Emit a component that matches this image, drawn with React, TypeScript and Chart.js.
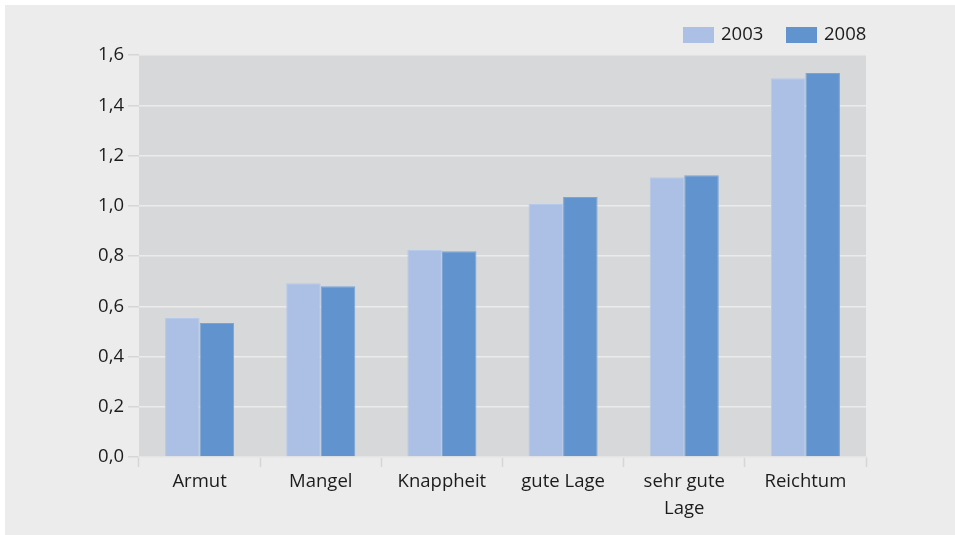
import React, { useEffect, useRef } from "react";
import { Chart, registerables } from "chart.js";

Chart.register(...registerables);

const categories: (string | string[])[] = ["Armut", "Mangel", "Knappheit", "gute Lage", ["sehr gute", "Lage"], "Reichtum"];
const values2003 = [0.553, 0.692, 0.824, 1.007, 1.113, 1.507];
const values2008 = [0.533, 0.68, 0.819, 1.035, 1.121, 1.528];
const seriesLabels = ["2003", "2008"];
const seriesColors = ["#abc0e4", "#6194cf"];

const FONT = "'Open Sans', 'Noto Sans', sans-serif";
const FS = 18.5;

export default function App() {
  const ref = useRef<HTMLCanvasElement | null>(null);
  useEffect(() => {
    if (!ref.current) return;
    const bgPlugin = {
      id: "bg",
      beforeDraw(chart: any) {
        const { ctx, chartArea, width, height } = chart;
        ctx.save();
        ctx.fillStyle = "#ffffff";
        ctx.fillRect(0, 0, width, height);
        ctx.fillStyle = "#ececec";
        ctx.fillRect(5, 5, width - 5, height - 5);
        ctx.fillStyle = "#d7d8da";
        ctx.fillRect(chartArea.left, chartArea.top, chartArea.right - chartArea.left, chartArea.bottom - chartArea.top);
        ctx.restore();
      },
      afterDraw(chart: any) {
        const { ctx } = chart;
        ctx.save();
        ctx.font = `${FS}px ${FONT}`;
        ctx.textBaseline = "middle";
        const starts = [683, 786];
        chart.data.datasets.forEach((ds: any, i: number) => {
          const x = starts[i];
          ctx.fillStyle = ds.backgroundColor;
          ctx.fillRect(x, 27, 31, 16);
          ctx.fillStyle = "#1c1c1c";
          ctx.fillText(ds.label, x + 38, 35);
        });
        ctx.restore();
      },
    };
    const chart = new Chart(ref.current, {
      type: "bar",
      data: {
        labels: categories as any,
        datasets: seriesLabels.map((l, i) => ({
          label: l,
          data: i === 0 ? values2003 : values2008,
          backgroundColor: seriesColors[i],
          borderColor: i === 0 ? "#b6c9e8" : "#7aa4d6",
          borderWidth: { top: 1, left: 1, right: 1, bottom: 0 },
          borderSkipped: false,
          categoryPercentage: 0.57,
          barPercentage: 1,
        })),
      },
      options: {
        animation: false,
        responsive: false,
        maintainAspectRatio: false,
        layout: { padding: { top: 55, right: 89, left: 0, bottom: 0 } },
        plugins: { legend: { display: false }, tooltip: { enabled: false } },
        scales: {
          x: {
            offset: true,
            grid: {
              offset: true,
              drawOnChartArea: false,
              drawTicks: true,
              tickLength: 10,
              tickColor: "#d6d6d6",
              tickWidth: 1.5,
            },
            border: { display: true, color: "#e4e4e4", width: 1.5 },
            ticks: {
              color: "#1c1c1c",
              font: { family: FONT, size: FS, lineHeight: 1.45 },
              padding: 1,
              maxRotation: 0,
              autoSkip: false,
            },
            afterFit(axis: any) {
              axis.height = 78;
            },
          },
          y: {
            min: 0,
            max: 1.6,
            ticks: {
              stepSize: 0.2,
              color: "#1c1c1c",
              font: { family: FONT, size: FS },
              padding: 4,
              callback: (v: any) => Number(v).toFixed(1).replace(".", ","),
            },
            grid: {
              color: "#ebebeb",
              lineWidth: 1.5,
              tickLength: 11,
              tickColor: "#d6d6d6",
            },
            border: { display: false },
            afterFit(axis: any) {
              axis.width = 139;
            },
          },
        },
      },
      plugins: [bgPlugin],
    });
    return () => chart.destroy();
  }, []);
  return (
    <div style={{ position: "fixed", left: 0, top: 0, width: 955, height: 535 }}>
      <canvas ref={ref} width={955} height={535} style={{ width: 955, height: 535, display: "block" }} />
    </div>
  );
}
